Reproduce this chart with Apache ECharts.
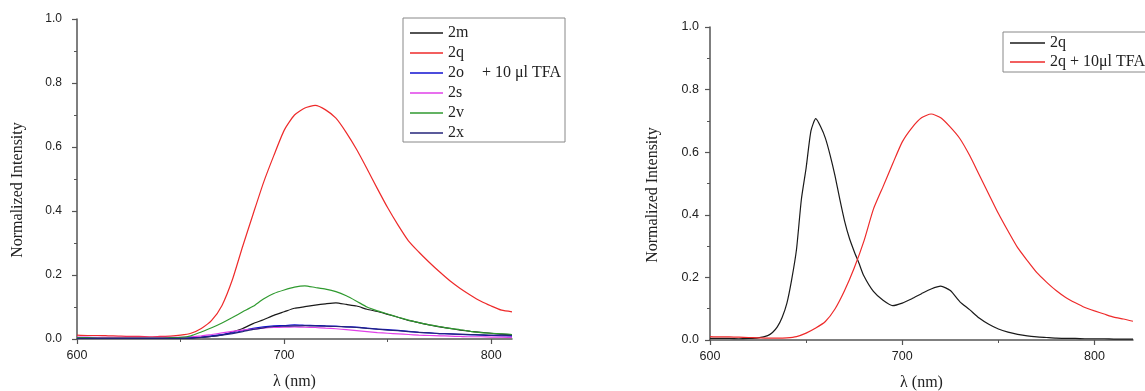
<!DOCTYPE html>
<html><head><meta charset="utf-8">
<script src="https://cdn.jsdelivr.net/npm/echarts@6/dist/echarts.min.js"></script>
<style>html,body{margin:0;padding:0;background:#fff}#c{width:1145px;height:391px}</style>
</head><body><div id="c"></div>
<script>
// ---------- Left panel: wavelengths (nm) ----------
const leftWl = [600,605,610,615,620,625,630,635,640,645,650,655,660,665,670,675,680,685,690,695,700,705,710,715,720,725,730,735,740,745,750,755,760,765,770,775,780,785,790,795,800,805,810];
const s2m = [0.002,0.002,0.002,0.002,0.002,0.002,0.002,0.002,0.002,0.002,0.002,0.003,0.005,0.008,0.013,0.022,0.033,0.048,0.060,0.074,0.085,0.096,0.101,0.106,0.110,0.113,0.108,0.103,0.093,0.086,0.077,0.068,0.058,0.051,0.044,0.038,0.033,0.028,0.024,0.021,0.018,0.015,0.014];
const s2q = [0.012,0.011,0.011,0.010,0.009,0.008,0.008,0.007,0.008,0.009,0.012,0.018,0.033,0.058,0.105,0.185,0.290,0.390,0.488,0.573,0.652,0.700,0.722,0.730,0.716,0.690,0.645,0.592,0.532,0.470,0.410,0.356,0.307,0.272,0.240,0.210,0.182,0.158,0.137,0.118,0.103,0.090,0.085];
const s2o = [0.004,0.004,0.003,0.003,0.003,0.003,0.003,0.003,0.003,0.003,0.003,0.004,0.006,0.010,0.014,0.019,0.026,0.033,0.038,0.041,0.042,0.044,0.043,0.042,0.041,0.040,0.038,0.037,0.034,0.031,0.029,0.027,0.024,0.021,0.019,0.017,0.016,0.014,0.013,0.012,0.011,0.010,0.009];
const s2s = [0.006,0.006,0.005,0.005,0.005,0.005,0.005,0.005,0.005,0.005,0.005,0.007,0.010,0.014,0.019,0.024,0.028,0.031,0.034,0.036,0.037,0.038,0.037,0.036,0.034,0.032,0.029,0.026,0.023,0.020,0.018,0.016,0.014,0.012,0.011,0.010,0.009,0.008,0.007,0.007,0.006,0.006,0.005];
const s2v = [0.004,0.004,0.003,0.003,0.003,0.003,0.003,0.003,0.003,0.004,0.005,0.010,0.022,0.035,0.050,0.067,0.085,0.102,0.125,0.142,0.153,0.162,0.166,0.161,0.156,0.148,0.135,0.118,0.100,0.088,0.078,0.068,0.059,0.051,0.044,0.039,0.033,0.029,0.024,0.020,0.018,0.016,0.014];
const s2x = [0.002,0.002,0.002,0.002,0.002,0.002,0.002,0.002,0.002,0.002,0.002,0.003,0.005,0.008,0.012,0.017,0.023,0.030,0.035,0.039,0.040,0.041,0.042,0.041,0.040,0.039,0.038,0.036,0.033,0.031,0.028,0.026,0.023,0.021,0.019,0.017,0.016,0.015,0.014,0.013,0.012,0.012,0.011];

// ---------- Right panel ----------
const rightBlackWl = [600,605,610,615,620,625,630,632.5,635,637.5,640,642.5,645,647.5,650,652.5,655,657.5,660,662.5,665,667.5,670,672.5,675,677.5,680,685,690,695,700,705,710,715,720,725,730,735,740,745,750,755,760,765,770,775,780,785,790,795,800,805,810,815,820];
const r2q = [0.005,0.005,0.005,0.004,0.005,0.007,0.014,0.024,0.042,0.072,0.118,0.194,0.290,0.448,0.550,0.668,0.707,0.682,0.645,0.590,0.525,0.450,0.380,0.325,0.283,0.245,0.205,0.155,0.127,0.110,0.118,0.132,0.148,0.163,0.172,0.158,0.122,0.097,0.070,0.050,0.035,0.025,0.018,0.013,0.010,0.008,0.006,0.005,0.005,0.004,0.004,0.004,0.003,0.003,0.003];
const rightRedWl = [600,605,610,615,620,625,630,635,640,645,650,655,660,665,670,675,680,685,690,695,700,705,710,715,720,725,730,735,740,745,750,755,760,765,770,775,780,785,790,795,800,805,810,815,820];
const r2qTFA = [0.011,0.010,0.010,0.009,0.008,0.007,0.006,0.006,0.007,0.011,0.022,0.038,0.059,0.099,0.158,0.230,0.315,0.418,0.490,0.563,0.633,0.678,0.710,0.722,0.710,0.680,0.643,0.590,0.528,0.466,0.404,0.348,0.295,0.254,0.215,0.185,0.158,0.136,0.119,0.104,0.093,0.083,0.073,0.067,0.060];

const xTicks = [600, 700, 800];
const leftNames = ['2m','2q','2o','2s','2v','2x'];
const rightNames = ['2q ','2q + 10μl TFA'];

function pairs(xs, ys) { return xs.map((x, i) => [x, ys[i]]); }

const axisColor = '#555';
const sans = '"Liberation Sans", Arial, sans-serif';
const serif = '"Liberation Serif", "Times New Roman", serif';

function xAxis(gridIndex, max) {
  return {
    type: 'value', gridIndex, min: 600, max, interval: 100,
    axisLine: { show: true, lineStyle: { color: axisColor, width: 1.5 } },
    axisTick: { show: true, inside: false, length: 5, lineStyle: { color: axisColor, width: 1.2 }, customValues: xTicks },
    minorTick: { show: true, splitNumber: 2, length: 3, lineStyle: { color: axisColor, width: 1 } },
    axisLabel: { color: '#222', fontFamily: sans, fontSize: 12.5, margin: 10, customValues: xTicks },
    splitLine: { show: false },
    name: 'λ (nm)', nameLocation: 'middle', nameGap: 35,
    nameTextStyle: { fontFamily: serif, fontSize: 16, color: '#222' }
  };
}
function yAxis(gridIndex, fontSize, margin) {
  return {
    type: 'value', gridIndex, min: 0, max: 1, interval: 0.2,
    axisLine: { show: true, onZero: false, lineStyle: { color: axisColor, width: 1.5 } },
    axisTick: { show: true, inside: false, length: 5, lineStyle: { color: axisColor, width: 1.2 } },
    minorTick: { show: true, splitNumber: 2, length: 3, lineStyle: { color: axisColor, width: 1 } },
    axisLabel: { color: '#222', fontFamily: sans, fontSize, margin, formatter: v => v.toFixed(1) },
    splitLine: { show: false }
  };
}
function line(name, xs, ys, color, xi) {
  return {
    type: 'line', name, data: pairs(xs, ys), xAxisIndex: xi, yAxisIndex: xi,
    symbol: 'none', showSymbol: false, smooth: 0.2,
    lineStyle: { color, width: 1.2 }, itemStyle: { color }
  };
}

const chart = echarts.init(document.getElementById('c'));
chart.setOption({
  animation: false,
  backgroundColor: '#fff',
  grid: [
    { left: 77, right: 633, top: 19, bottom: 52, outerBoundsMode: 'none', containLabel: false },
    { left: 710, right: 12, top: 27, bottom: 51, outerBoundsMode: 'none', containLabel: false }
  ],
  xAxis: [xAxis(0, 810), xAxis(1, 820)],
  yAxis: [yAxis(0, 12, 15), yAxis(1, 12.5, 11)],
  legend: [
    { left: 410, top: 25, orient: 'vertical', icon: 'rect', itemWidth: 33, itemHeight: 1.5, itemGap: 4, padding: 0,
      selectedMode: false, data: leftNames,
      textStyle: { fontFamily: serif, fontSize: 16, lineHeight: 16, color: '#222' } },
    { left: 1010, top: 35, orient: 'vertical', icon: 'rect', itemWidth: 35, itemHeight: 1.5, itemGap: 3, padding: 0,
      selectedMode: false, data: rightNames,
      textStyle: { fontFamily: serif, fontSize: 16, lineHeight: 16, color: '#222' } }
  ],
  graphic: [
    { type: 'rect', shape: { x: 403, y: 18, width: 162, height: 124 }, style: { fill: 'none', stroke: '#888', lineWidth: 1 }, silent: true },
    { type: 'rect', shape: { x: 1003, y: 32, width: 160, height: 40 }, style: { fill: 'none', stroke: '#888', lineWidth: 1 }, silent: true },
    { type: 'text', x: 482, y: 73, style: { text: '+ 10 μl TFA', font: '16px ' + serif, fill: '#222', align: 'left', verticalAlign: 'middle', textAlign: 'left', textVerticalAlign: 'middle' } },
    { type: 'text', x: 18, y: 190, rotation: Math.PI / 2, style: { text: 'Normalized Intensity', font: '16px ' + serif, fill: '#222', align: 'center', verticalAlign: 'middle', textAlign: 'center', textVerticalAlign: 'middle' } },
    { type: 'text', x: 653, y: 195, rotation: Math.PI / 2, style: { text: 'Normalized Intensity', font: '16px ' + serif, fill: '#222', align: 'center', verticalAlign: 'middle', textAlign: 'center', textVerticalAlign: 'middle' } }
  ],
  series: [
    line('2m', leftWl, s2m, '#1a1a1a', 0),
    line('2q', leftWl, s2q, '#ee2a2a', 0),
    line('2o', leftWl, s2o, '#1010d0', 0),
    line('2s', leftWl, s2s, '#e040e8', 0),
    line('2v', leftWl, s2v, '#2f9a2f', 0),
    line('2x', leftWl, s2x, '#24247a', 0),
    line('2q ', rightBlackWl, r2q, '#1a1a1a', 1),
    line('2q + 10μl TFA', rightRedWl, r2qTFA, '#ee2a2a', 1)
  ]
});
</script></body></html>
